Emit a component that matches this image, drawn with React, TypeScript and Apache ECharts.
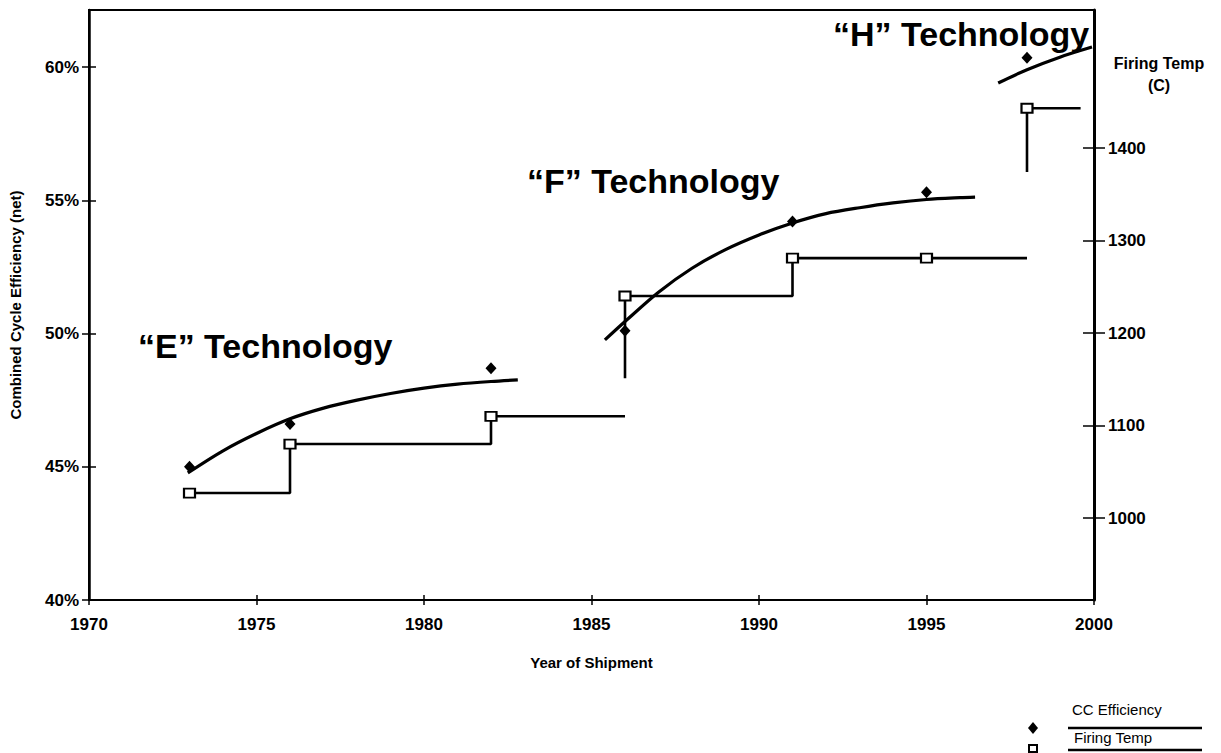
import React, { useEffect, useRef } from "react";
import * as echarts from "echarts";

// ---- tick labels ----
const xTicks = [1970, 1975, 1980, 1985, 1990, 1995, 2000];
const effTicks = [40, 45, 50, 55, 60];
const tempTicks = [1000, 1100, 1200, 1300, 1400];

// ---- CC efficiency points (%) ----
const effYears = [1973, 1976, 1982, 1986, 1991, 1995, 1998];
const effValues = [45.0, 46.6, 48.7, 50.1, 54.2, 55.3, 60.35];

// ---- firing temperature points (C) ----
const tempYears = [1973, 1976, 1982, 1986, 1991, 1995, 1998];
const tempValues = [1027, 1080, 1110, 1240, 1281, 1281, 1443];

// ---- efficiency trend curves ----
const eTrendYears = [1972.95, 1974, 1975, 1976, 1977, 1978, 1979, 1980, 1981, 1982, 1982.8];
const eTrendValues = [44.77, 45.6, 46.25, 46.8, 47.2, 47.5, 47.75, 47.95, 48.1, 48.2, 48.26];
const fTrendYears = [1985.4, 1986, 1987, 1988, 1989, 1990, 1991, 1992, 1993, 1994, 1995, 1996, 1996.45];
const fTrendValues = [49.76, 50.45, 51.55, 52.45, 53.15, 53.7, 54.15, 54.5, 54.72, 54.9, 55.03, 55.1, 55.12];
const hTrendYears = [1997.14, 1998, 1999, 1999.94];
const hTrendValues = [59.4, 59.9, 60.38, 60.75];

// ---- firing temperature step lines ----
const eStepYears = [1973, 1976, 1982, 1986];
const eStepTemps = [1027, 1080, 1110, 1110];
const fStepYears = [1986, 1986, 1991, 1995, 1998];
const fStepTemps = [1151, 1240, 1281, 1281, 1281];
const hStepYears = [1998, 1998, 1999.6];
const hStepTemps = [1374, 1443, 1443];

const zip = (a: number[], b: number[]) => a.map((v, i) => [v, b[i]]);

const black = "#000";
const FONT = "'Liberation Sans', Arial, Helvetica, sans-serif";
const tickFont = { color: black, fontFamily: FONT, fontWeight: "bold" as const, fontSize: 17 };

export default function App() {
  const ref = useRef<HTMLDivElement>(null);
  useEffect(() => {
    if (!ref.current) return;
    const chart = echarts.init(ref.current, undefined, { renderer: "svg" });
    const effMin = 40, effMax = 62.14;
    const tMin = 911.4, tMax = 1549.2;
    const trend = (name: string, xs: number[], ys: number[]) => ({
      name, type: "line", xAxisIndex: 0, yAxisIndex: 0, data: zip(xs, ys),
      smooth: 0.3, showSymbol: false, symbol: "none",
      lineStyle: { color: black, width: 3.2 }, z: 3,
    });
    const step = (name: string, xs: number[], ys: number[]) => ({
      name, type: "line", xAxisIndex: 0, yAxisIndex: 1, data: zip(xs, ys),
      step: "end", showSymbol: false, symbol: "none",
      lineStyle: { color: black, width: 2.6 }, z: 3,
    });
    const option: any = {
      animation: false,
      backgroundColor: "#fff",
      grid: { left: 87, right: 127, top: 10, bottom: 153, show: true, borderColor: black, borderWidth: 2, backgroundColor: "transparent" },
      xAxis: [
        {
          type: "value", min: 1970, max: 2000, position: "bottom",
          axisLine: { show: true, onZero: false, lineStyle: { color: black, width: 2 } },
          axisTick: { show: true, inside: false, length: 5, customValues: xTicks, lineStyle: { color: black, width: 1.5 } },
          axisLabel: { customValues: xTicks, formatter: (v: number) => String(v), margin: 16, ...tickFont },
          splitLine: { show: false },
          name: "Year of Shipment", nameLocation: "middle", nameGap: 55,
          nameTextStyle: { color: black, fontFamily: FONT, fontWeight: "bold", fontSize: 15 },
        },
        {
          type: "value", min: 1970, max: 2000, position: "bottom",
          axisLine: { show: false },
          axisTick: { show: true, inside: true, length: 5, customValues: xTicks, lineStyle: { color: black, width: 1.5 } },
          axisLabel: { show: false }, splitLine: { show: false },
        },
      ],
      yAxis: [
        {
          type: "value", min: effMin, max: effMax, position: "left",
          axisLine: { show: true, onZero: false, lineStyle: { color: black, width: 2.5 } },
          axisTick: { show: true, inside: false, length: 7, customValues: effTicks, lineStyle: { color: black, width: 1.5 } },
          axisLabel: { customValues: effTicks, formatter: (v: number) => v + "%", margin: 10, ...tickFont },
          splitLine: { show: false },
          name: "Combined Cycle Efficiency (net)", nameLocation: "middle", nameGap: 66,
          nameTextStyle: { color: black, fontFamily: FONT, fontWeight: "bold", fontSize: 15 },
        },
        {
          type: "value", min: tMin, max: tMax, position: "right",
          axisLine: { show: true, onZero: false, lineStyle: { color: black, width: 3 } },
          axisTick: { show: true, inside: false, length: 11, customValues: tempTicks, lineStyle: { color: black, width: 1.5 } },
          axisLabel: { customValues: tempTicks, formatter: (v: number) => String(v), margin: 14, ...tickFont },
          splitLine: { show: false },
        },
        {
          type: "value", min: effMin, max: effMax, position: "left",
          axisLine: { show: false },
          axisTick: { show: true, inside: true, length: 7, customValues: effTicks, lineStyle: { color: black, width: 1.5 } },
          axisLabel: { show: false }, splitLine: { show: false },
        },
        {
          type: "value", min: tMin, max: tMax, position: "right",
          axisLine: { show: false },
          axisTick: { show: true, inside: true, length: 11, customValues: tempTicks, lineStyle: { color: black, width: 1.5 } },
          axisLabel: { show: false }, splitLine: { show: false },
        },
      ],
      series: [
        trend("E trend", eTrendYears, eTrendValues),
        trend("F trend", fTrendYears, fTrendValues),
        trend("H trend", hTrendYears, hTrendValues),
        step("E temp", eStepYears, eStepTemps),
        step("F temp", fStepYears, fStepTemps),
        step("H temp", hStepYears, hStepTemps),
        {
          name: "Firing Temp", type: "scatter", xAxisIndex: 0, yAxisIndex: 1,
          data: zip(tempYears, tempValues), symbol: "rect", symbolSize: [11, 9],
          itemStyle: { color: "#fff", borderColor: black, borderWidth: 2, opacity: 1 }, z: 5,
        },
        {
          name: "CC Efficiency", type: "scatter", xAxisIndex: 0, yAxisIndex: 0,
          data: zip(effYears, effValues), symbol: "diamond", symbolSize: [11, 12],
          itemStyle: { color: black, opacity: 1 }, z: 6,
        },
      ],
      graphic: [
        { type: "text", x: 138, y: 346, style: { text: "\u201CE\u201D Technology", fill: black, font: `bold 34px ${FONT}`, align: "left", verticalAlign: "middle", textAlign: "left", textVerticalAlign: "middle" } },
        { type: "text", x: 527, y: 181, style: { text: "\u201CF\u201D Technology", fill: black, font: `bold 34px ${FONT}`, align: "left", verticalAlign: "middle", textAlign: "left", textVerticalAlign: "middle" } },
        { type: "text", x: 833, y: 34, style: { text: "\u201CH\u201D Technology", fill: black, font: `bold 34px ${FONT}`, align: "left", verticalAlign: "middle", textAlign: "left", textVerticalAlign: "middle" } },
        { type: "text", x: 1159, y: 63, style: { text: "Firing Temp", fill: black, font: `bold 16px ${FONT}`, align: "center", verticalAlign: "middle", textAlign: "center", textVerticalAlign: "middle" } },
        { type: "text", x: 1159, y: 85, style: { text: "(C)", fill: black, font: `bold 16px ${FONT}`, align: "center", verticalAlign: "middle", textAlign: "center", textVerticalAlign: "middle" } },
        // legend
        { type: "text", x: 1072, y: 709, style: { text: "CC Efficiency", fill: black, font: `15px ${FONT}`, align: "left", verticalAlign: "middle", textAlign: "left", textVerticalAlign: "middle" } },
        { type: "line", shape: { x1: 1068, y1: 728, x2: 1202, y2: 728 }, style: { stroke: black, lineWidth: 2.5 } },
        { type: "polygon", shape: { points: [[1033, 722], [1038, 728], [1033, 734], [1028, 728]] }, style: { fill: black } },
        { type: "text", x: 1074, y: 737, style: { text: "Firing Temp", fill: black, font: `15px ${FONT}`, align: "left", verticalAlign: "middle", textAlign: "left", textVerticalAlign: "middle" } },
        { type: "line", shape: { x1: 1068, y1: 750, x2: 1202, y2: 750 }, style: { stroke: black, lineWidth: 2.5 } },
        { type: "rect", shape: { x: 1029, y: 745, width: 8, height: 7 }, style: { fill: "#fff", stroke: black, lineWidth: 2 } },
      ],
    };
    chart.setOption(option);
    return () => chart.dispose();
  }, []);
  return <div ref={ref} style={{ position: "absolute", left: 0, top: 0, width: 1221, height: 753, background: "#fff" }} />;
}
